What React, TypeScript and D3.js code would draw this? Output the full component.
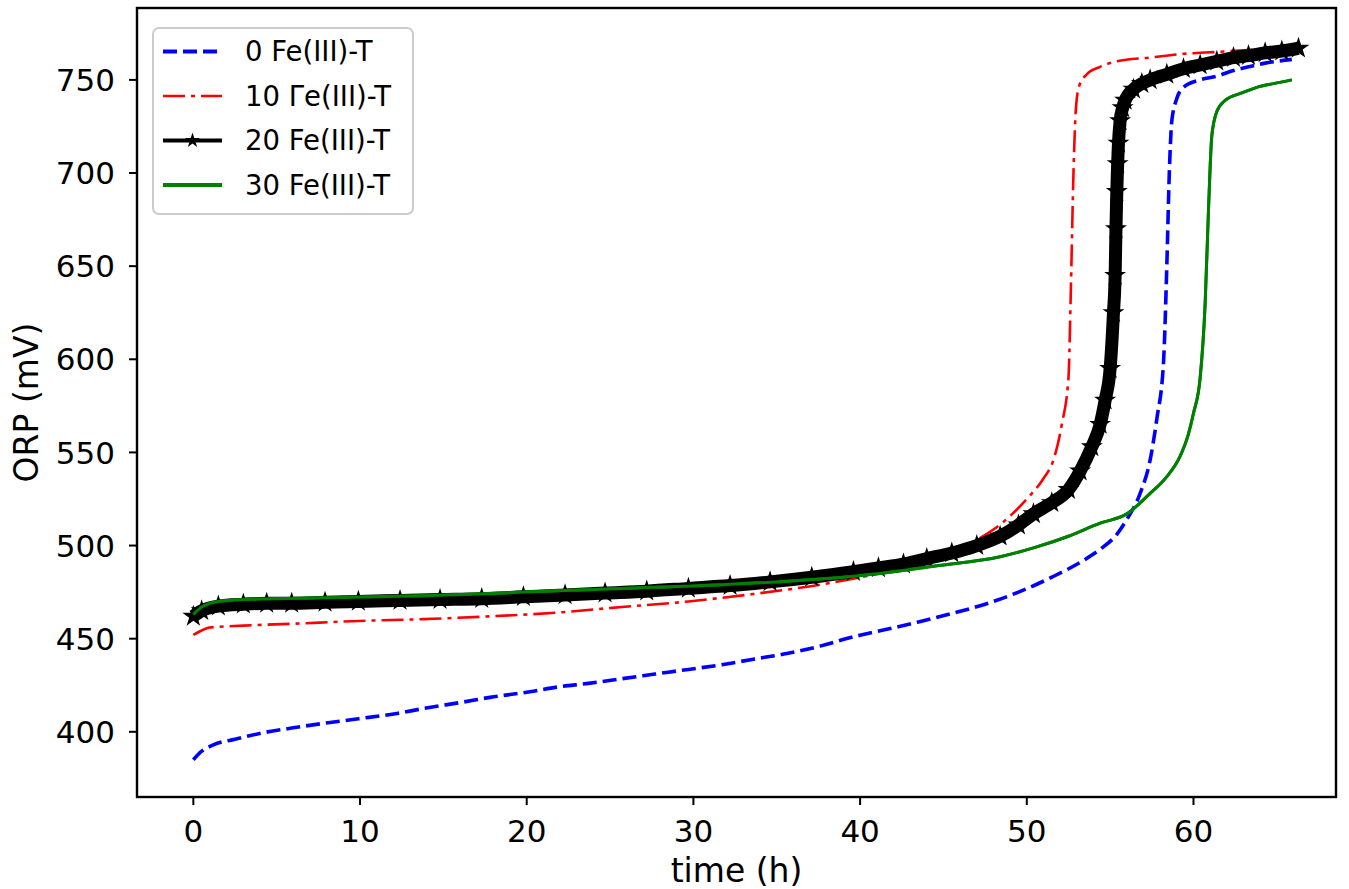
import React from "react";
import * as d3 from "d3";

const W = 1349;
const H = 889;

// time (h) / ORP (mV)
const time0 = [0, 0.3, 1.2, 2.5, 4.2, 5.9, 8.2, 9.9, 12.3, 13.8, 16.2, 17.8, 20.2, 21.8, 23.7, 25.7, 27.7, 29.7, 31.7, 33.6, 35.6, 37.6, 39.6, 41.6, 43.5, 45.5, 47.5, 49.5, 51.5, 53.4, 54.4, 55.4, 56.0, 56.8, 57.4, 57.8, 58.2, 58.4, 58.55, 58.7, 59.0, 59.4, 60.4, 61.4, 62.4, 63.3, 64.3, 65.9];
const orp0 = [385, 388, 393, 396, 399.5, 402, 405, 407, 410, 412.5, 416, 418.5, 421.5, 424, 426, 428.5, 431, 433.5, 436, 439, 442, 446, 451, 455, 459, 463.5, 468.5, 475, 483, 492, 498, 506, 514, 528, 546, 568, 598, 650, 700, 728, 740, 746, 750, 752, 755, 757, 759, 761];

const time10 = [0, 0.4, 1, 3, 5.9, 9.9, 13.8, 17.8, 21.8, 25.7, 29.7, 33.6, 37.6, 41.6, 43.5, 45.5, 47.0, 48.5, 50.0, 51.0, 51.6, 52.1, 52.5, 52.65, 52.8, 52.95, 53.15, 53.6, 54.4, 55.4, 57.4, 59.4, 61.4, 63.3, 65.9];
const orp10 = [452, 454, 456, 457, 458, 459.5, 460.5, 462, 464, 467, 470, 474, 479, 486, 490, 496, 503, 512, 525, 536, 546, 565, 590, 640, 700, 735, 747, 753, 757, 760, 762, 764, 765, 766, 767];

const time20 = [0, 0.5, 1.5, 3, 4.4, 5.9, 7.9, 9.9, 12.4, 14.8, 17.3, 19.8, 22.3, 24.7, 27.2, 29.7, 32.2, 34.6, 37.1, 39.6, 41.1, 42.6, 44.0, 45.5, 47.0, 48.4, 49.5, 50.4, 51.5, 52.5, 53.2, 53.9, 54.4, 54.7, 55.0, 55.2, 55.3, 55.35, 55.4, 55.45, 55.5, 55.6, 55.75, 55.9, 56.4, 56.9, 57.4, 58.4, 59.4, 60.4, 61.4, 62.4, 63.3, 64.3, 65.3, 66.3];
const orp20 = [462, 465, 467.5, 468.5, 469, 469, 469.5, 470, 470.5, 471, 471.5, 472.5, 473.5, 474.5, 475.5, 477, 478.5, 480.5, 483, 486, 488, 490, 493, 496, 500, 505, 511, 517, 523, 530, 540, 553, 565, 578, 595, 625, 645, 670, 690, 705, 716, 728, 735, 739, 745, 748, 750, 753, 756, 758, 760, 762, 763, 764.5, 765.5, 767];

const time30 = [0, 0.5, 1.5, 3, 7.9, 13.8, 19.8, 25.7, 31.7, 37.6, 41.2, 44.5, 48.4, 50.5, 52.5, 54.4, 56.0, 57.4, 58.4, 59.2, 59.7, 60.0, 60.4, 60.7, 60.9, 61.1, 61.4, 61.9, 62.9, 63.8, 64.8, 65.9];
const orp30 = [463, 467, 470, 471, 472, 473, 475, 477, 479, 482, 485, 489, 494, 499, 505, 512, 517, 528, 537, 548, 560, 571, 590, 630, 680, 720, 733, 739, 743, 746, 748, 750];

const labels = ["0 Fe(III)-T", "10 \u0393e(III)-T", "20 Fe(III)-T", "30 Fe(III)-T"];
const xTicks = [0, 10, 20, 30, 40, 50, 60];
const yTicks = [400, 450, 500, 550, 600, 650, 700, 750];

const font = "DejaVu Sans, sans-serif";
const tickFs = 31;
const labelFs = 33;
const legendFs = 27.5;

const styles = [
  { color: "#0000ff", width: 3.6, dash: "14 6" as string | undefined },
  { color: "#ff0000", width: 2.6, dash: "22 6 4 6" as string | undefined },
  { color: "#000000", width: 13, dash: undefined as string | undefined },
  { color: "#008000", width: 3, dash: undefined as string | undefined },
];

export default function App() {
  const left = 137, right = 1336, top = 8, bottom = 797;
  const x = d3.scaleLinear().domain([-3.38, 68.55]).range([left, right]);
  const y = d3.scaleLinear().domain([365, 788.6]).range([bottom, top]);

  const series = [
    d3.zip(time0, orp0),
    d3.zip(time10, orp10),
    d3.zip(time20, orp20),
    d3.zip(time30, orp30),
  ];

  const line = d3
    .line<number[]>()
    .x((d) => x(d[0]))
    .y((d) => y(d[1]))
    .curve(d3.curveMonotoneX);

  const star = d3.symbol(d3.symbolStar, 150)();
  const starLegend = d3.symbol(d3.symbolStar, 70)();

  const legX = 153, legY = 28, legW = 260, legH = 186;
  const rowY = (i: number) => 51.5 + i * 44.5;

  return (
    <svg
      width={W}
      height={H}
      style={{ position: "absolute", left: 0, top: 0, background: "#fff" }}
      fontFamily={font}
    >
      <defs>
        <clipPath id="plot">
          <rect x={left} y={top} width={right - left} height={bottom - top} />
        </clipPath>
      </defs>

      <g clipPath="url(#plot)">
        {series.map((s, i) => (
          <path
            key={i}
            d={line(s) || ""}
            fill="none"
            stroke={styles[i].color}
            strokeWidth={styles[i].width}
            strokeDasharray={styles[i].dash}
            strokeLinejoin="round"
          />
        ))}
        {series[2].map((d, j) => (
          <path key={"s" + j} d={star || ""} transform={`translate(${x(d[0])},${y(d[1])})`} fill="#000" />
        ))}
        <path d={line(series[3]) || ""} fill="none" stroke={styles[3].color} strokeWidth={styles[3].width} />
      </g>

      {/* spines */}
      <rect x={left} y={top} width={right - left} height={bottom - top} fill="none" stroke="#000" strokeWidth={2.4} />

      {/* x axis */}
      {xTicks.map((t) => (
        <g key={t} transform={`translate(${x(t)},${bottom})`}>
          <line y1={0} y2={8} stroke="#000" strokeWidth={2} />
          <text y={45} textAnchor="middle" fontSize={tickFs} fill="#000">{t}</text>
        </g>
      ))}
      <text x={(left + right) / 2} y={882} textAnchor="middle" fontSize={labelFs} fill="#000">time (h)</text>

      {/* y axis */}
      {yTicks.map((t) => (
        <g key={t} transform={`translate(${left},${y(t)})`}>
          <line x1={0} x2={-8} stroke="#000" strokeWidth={2} />
          <text x={-22} dy="0.36em" textAnchor="end" fontSize={tickFs} fill="#000">{t}</text>
        </g>
      ))}
      <text
        transform={`translate(38,${(top + bottom) / 2}) rotate(-90)`}
        textAnchor="middle"
        fontSize={labelFs}
        fill="#000"
      >
        ORP (mV)
      </text>

      {/* legend */}
      <rect x={legX} y={legY} width={legW} height={legH} rx={6} fill="#fff" fillOpacity={0.8} stroke="#cccccc" strokeWidth={2} />
      {labels.map((lab, i) => (
        <g key={lab}>
          <line
            x1={163}
            x2={222}
            y1={rowY(i)}
            y2={rowY(i)}
            stroke={styles[i].color}
            strokeWidth={i === 1 ? 2.6 : 4}
            strokeDasharray={styles[i].dash}
          />
          {i === 2 && <path d={starLegend || ""} transform={`translate(192.5,${rowY(i)})`} fill="#000" />}
          <text x={245} y={rowY(i)} dy="0.36em" fontSize={legendFs} fill="#000">{lab}</text>
        </g>
      ))}
    </svg>
  );
}
